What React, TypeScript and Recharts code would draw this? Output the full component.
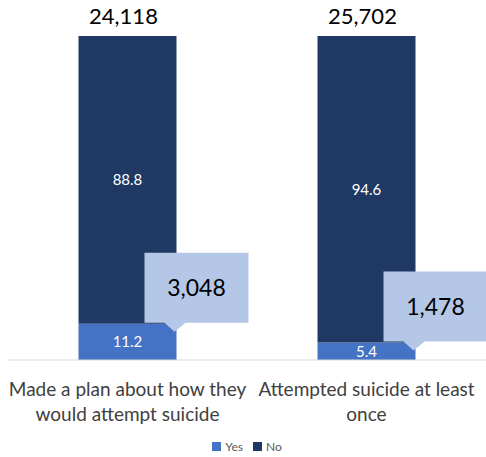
import React from 'react';
import { BarChart, Bar, XAxis, YAxis, Legend, LabelList } from 'recharts';

const categories = ['Made a plan about how they would attempt suicide', 'Attempted suicide at least once'];
const categoryLines = [
  ['Made a plan about how they', 'would attempt suicide'],
  ['Attempted suicide at least', 'once'],
];
const yesValues = [11.2, 5.4];
const noValues = [88.8, 94.6];
const totalLabels = ['24,118', '25,702'];
const yesCounts = ['3,048', '1,478'];
const legendItems = [
  { name: 'Yes', color: '#4472C4' },
  { name: 'No', color: '#203864' },
];

const data = categories.map((name, i) => ({
  name,
  yes: yesValues[i],
  no: noValues[i],
  total: totalLabels[i],
  count: yesCounts[i],
}));

const FONT = 'Lato, "Noto Sans", sans-serif';

const CategoryTick = (props: any) => {
  const { x, y, index } = props;
  const lines = categoryLines[index] || [];
  return (
    <text x={x} y={y + 28} textAnchor="middle" fontSize={19} fontFamily={FONT} fill="#404040">
      {lines.map((l, i) => (
        <tspan key={i} x={x} dy={i === 0 ? 0 : 25}>
          {l}
        </tspan>
      ))}
    </text>
  );
};

const TotalLabel = (props: any) => {
  const { x, y, width, index } = props;
  return (
    <text
      x={x + width / 2 - 4}
      y={y - 12}
      textAnchor="middle"
      fontSize={22}
      fontFamily={FONT}
      fill="#000"
    >
      {totalLabels[index]}
    </text>
  );
};

// callout box pointing into the Yes segment
const Callout = (props: any) => {
  const { x, y, index } = props;
  const left = x + 66;
  const right = x + 170;
  const top = y - 71;
  const bottom = y - 1;
  const path = `M${left},${top} L${right},${top} L${right},${bottom} L${x + 107},${bottom} L${x + 96},${y + 8} L${x + 86},${bottom} L${left},${bottom} Z`;
  return (
    <g>
      <path d={path} fill="#B4C7E7" />
      <text
        x={(left + right) / 2}
        y={(top + bottom) / 2 + 8}
        textAnchor="middle"
        fontSize={23}
        fontFamily={FONT}
        fill="#000"
      >
        {yesCounts[index]}
      </text>
    </g>
  );
};

const LegendContent = () => (
  <div style={{ display: 'flex', justifyContent: 'center', gap: 10, fontFamily: FONT, fontSize: 12, color: '#595959' }}>
    {legendItems.map((it) => (
      <span key={it.name} style={{ display: 'flex', alignItems: 'center' }}>
        <span style={{ width: 9, height: 9, background: it.color, marginRight: 4, display: 'inline-block' }} />
        {it.name}
      </span>
    ))}
  </div>
);

export default function App() {
  return (
    <div style={{ position: 'absolute', left: 0, top: 0 }}>
      <BarChart
        width={486}
        height={457}
        data={data}
        margin={{ top: 36, right: 0, left: 8, bottom: 0 }}
        barCategoryGap="29.5%"
      >
        <XAxis
          dataKey="name"
          interval={0}
          tickLine={false}
          axisLine={{ stroke: '#D9D9D9' }}
          height={81}
          tick={<CategoryTick />}
        />
        <YAxis hide domain={[0, 100]} />
        <Legend content={<LegendContent />} wrapperStyle={{ bottom: 2, height: 16 }} />
        <Bar dataKey="yes" name="Yes" stackId="a" fill="#4472C4" isAnimationActive={false}>
          <LabelList dataKey="yes" position="center" fill="#fff" fontSize={15} fontFamily={FONT} />
          <LabelList dataKey="count" content={<Callout />} />
        </Bar>
        <Bar dataKey="no" name="No" stackId="a" fill="#203864" isAnimationActive={false}>
          <LabelList dataKey="no" position="center" fill="#fff" fontSize={15} fontFamily={FONT} />
          <LabelList dataKey="total" content={<TotalLabel />} />
        </Bar>
      </BarChart>
    </div>
  );
}
